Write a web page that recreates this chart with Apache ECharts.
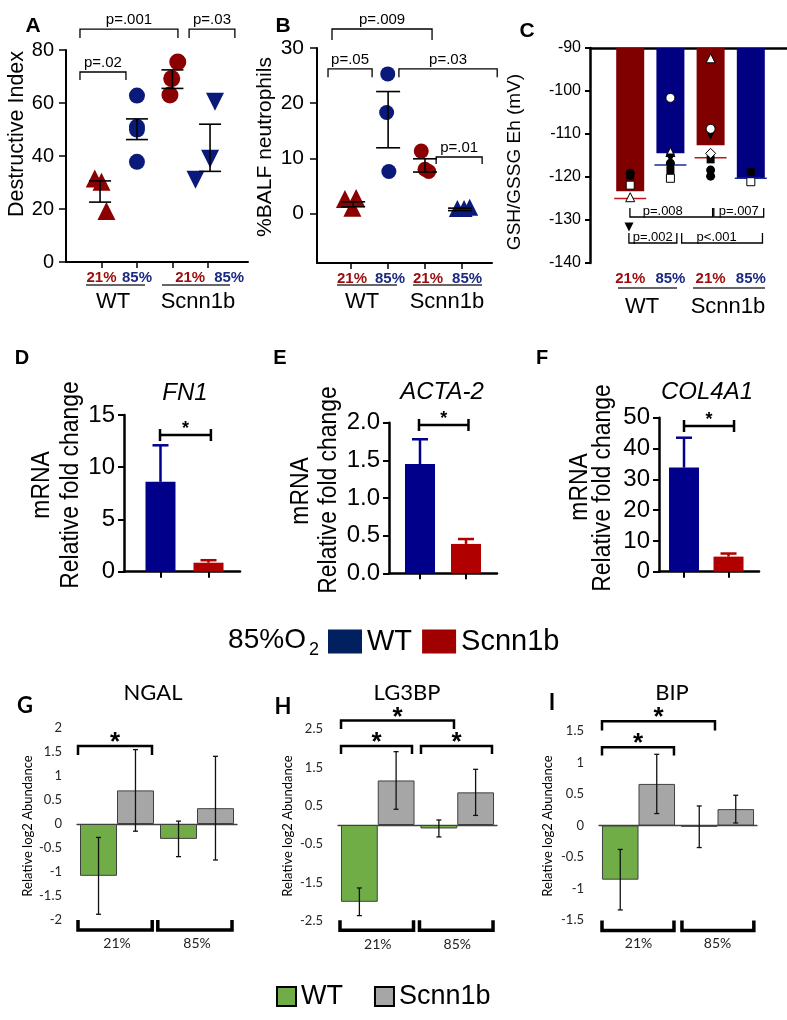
<!DOCTYPE html>
<html><head><meta charset="utf-8">
<script src="https://cdn.jsdelivr.net/npm/echarts@6/dist/echarts.min.js"></script>
<style>html,body{margin:0;padding:0;background:#fff}#c{width:787px;height:1020px}</style>
</head><body><div id="c"></div>
<script>
// ---------------- DATA ----------------
// Panel A: Destructive Index (points as [group position, value])
const groupLabels = ['21%', '85%', '21%', '85%'];
const aWT21 = [[0.81, 31.5], [1.0, 30.3], [1.14, 19.2]];
const aWT85 = [[2.0, 62.8], [2.0, 51.0], [2.0, 50.0], [2.0, 37.8]];
const aSc21 = [[3.15, 75.5], [2.98, 69.2], [2.93, 63.0]];
const aSc85 = [[4.2, 60.5], [4.06, 39.0], [3.65, 31.0]];
const aSem = [[0.96, 22.6, 30.6], [2.0, 46.2, 54.0], [3.0, 65.5, 72.5], [4.06, 34.2, 52.0]];
// Panel B: %BALF neutrophils
const bWT21 = [[0.85, 2.6], [1.15, 2.8], [1.05, 1.0]];
const bWT85 = [[2.0, 25.3], [1.97, 18.3], [2.03, 7.6]];
const bSc21 = [[2.9, 11.3], [3.1, 7.6], [3.0, 8.0]];
const bSc85 = [[3.87, 0.9], [4.05, 0.9], [4.2, 1.1]];
const bSem = [[1.07, 1.2, 2.1], [2.01, 11.9, 22.1], [3.0, 7.5, 9.9], [3.94, 0.5, 0.95]];
// Panel C: GSH/GSSG Eh (mV)
const cBars = [-123.3, -114.5, -112.6, -120.3];
const cMedian = [-125.0, -117.2, -115.5, -120.3];
const cBlackCircle = [[1, -119.1], [2, -116.8], [3, -118.4], [3, -119.8]];
const cBlackSquare = [[1, -119.7], [2, -118.4], [3, -115.9], [4, -118.8]];
const cWhiteSquare = [[1, -121.9], [2, -120.3], [4, -121.1]];
const cWhiteTriangle = [[1, -124.7], [2, -114.2], [3, -92.4]];
const cBlackTriDown = [[0.97, -131.6], [2, -115.6], [3, -110.3]];
const cWhiteCircle = [[2, -101.6], [3, -108.8]];
const cWhiteDiamond = [[3, -114.5]];
// Panels D-F: mRNA relative fold change (85% O2), [WT, Scnn1b]
const fn1Mean = [8.6, 0.86], fn1Err = [3.5, 0.24];
const acta2Mean = [1.45, 0.39], acta2Err = [0.33, 0.065];
const col4a1Mean = [33.8, 4.9], col4a1Err = [9.7, 1.0];
// Panels G-I: relative log2 abundance, categories 21% / 85%
const ghiCats = ['21%', '85%'];
const ngalWT = [-1.08, -0.31], ngalWTErr = [0.8, 0.37], ngalSc = [0.7, 0.33], ngalScErr = [0.85, 1.08];
const lg3bpWT = [-2.0, -0.09], lg3bpWTErr = [0.36, 0.22], lg3bpSc = [1.16, 0.85], lg3bpScErr = [0.75, 0.6];
const bipWT = [-0.86, -0.02], bipWTErr = [0.48, 0.33], bipSc = [0.66, 0.26], bipScErr = [0.47, 0.22];

// ---------------- ANNOTATIONS (data units) ----------------
const aBrackets = [
  {x1: 0.394, x2: 3.155, y: 87.9, leg: 84.5, text: 'p=.001'},
  {x1: 3.47, x2: 4.76, y: 87.9, leg: 84.5, text: 'p=.03'},
  {x1: 0.394, x2: 1.69, y: 71.7, leg: 68.7, text: 'p=.02'}];
const bBrackets = [
  {x1: 0.503, x2: 3.19, y: 33.45, leg: 31.45, text: 'p=.009'},
  {x1: 0.396, x2: 1.58, y: 26.2, leg: 24.7, text: 'p=.05'},
  {x1: 2.30, x2: 4.94, y: 26.2, leg: 24.7, text: 'p=.03'},
  {x1: 3.30, x2: 4.535, y: 10.23, leg: 8.96, text: 'p=.01'}];
const cBrackets = [
  {x1: 0.993, x2: 3.05, y: -129.3, leg: -127.2, text: 'p=.008', tx: 1.81},
  {x1: 3.08, x2: 4.32, y: -129.3, leg: -127.2, text: 'p=.007', tx: 3.70},
  {x1: 0.968, x2: 2.16, y: -135.35, leg: -133.0, text: 'p=.002', tx: 1.56},
  {x1: 2.28, x2: 4.29, y: -135.35, leg: -133.0, text: 'p<.001', tx: 3.15}];
const dSig = {x1: 0.99, x2: 2.05, y: 13.08};
const eSig = {x1: 0.978, x2: 2.054, y: 1.97};
const fSig = {x1: 1.0, x2: 2.124, y: 47.3};
const gSig = [{x1: -0.4875, x2: 0.4375, y: 1.625, leg: 1.4375, text: '*'}];
const gBottom = [{x1: -0.4875, x2: 0.44, y: -2.21, leg: -2.0}, {x1: 0.51, x2: 1.4375, y: -2.21, leg: -2.0}];
const hSig = [{x1: -0.462, x2: 0.431, y: 2.06, leg: 1.85, text: '*'},
  {x1: 0.544, x2: 1.437, y: 2.06, leg: 1.85, text: '*'},
  {x1: -0.462, x2: 0.959, y: 2.72, leg: 2.5, text: '*'}];
const hBottom = [{x1: -0.475, x2: 0.45, y: -2.74, leg: -2.48}, {x1: 0.525, x2: 1.45, y: -2.74, leg: -2.48}];
const iSig = [{x1: -0.462, x2: 0.449, y: 1.243, leg: 1.11, text: '*'},
  {x1: -0.462, x2: 0.968, y: 1.656, leg: 1.508, text: '*'}];
const iBottom = [{x1: -0.462, x2: 0.449, y: -1.667, leg: -1.508}, {x1: 0.55, x2: 1.46, y: -1.667, leg: -1.508}];
const aLabelPos = [1, 2, 3.5, 4.6];
const bLabelPos = [1.04, 2.06, 3.08, 4.13];
const cLabelPos = [1, 2, 3, 4];

// ---------------- STYLE ----------------
const FONT = '"Liberation Sans", Arial, sans-serif';
const NARROW = '"Liberation Sans Narrow", "Arial Narrow", "Liberation Sans", Arial, sans-serif';
const CAL = 'Lato, "Open Sans", sans-serif';
const RED = '#8b0000', BLUE = '#0a1a7a';
const LRED = '#9b0d0d', LBLUE = '#1b2a80';
const CRED = '#800000', CBLUE = '#000080';
const DFBLUE = '#00008b', DFRED = '#b00000';
const GREEN = '#70ad47', GRAY = '#a6a6a6';
const BAR_OFF = 0.231;

const chart = echarts.init(document.getElementById('c'), null, {renderer: 'canvas', width: 787, height: 1020});

const grids = [
  {left: 66, top: 50, width: 182, height: 212},
  {left: 317, top: 48, width: 175, height: 215},
  {left: 590, top: 48, width: 197, height: 215},
  {left: 124, top: 415, width: 116, height: 156.7},
  {left: 389, top: 422.7, width: 108, height: 150.6},
  {left: 659, top: 417.7, width: 100, height: 154},
  {left: 77, top: 728, width: 160, height: 192},
  {left: 338, top: 729, width: 159, height: 192},
  {left: 599, top: 731, width: 158, height: 189}
].map(g => Object.assign({outerBoundsMode: 'none', containLabel: false}, g));

function nearestIdx(arr, v) { let b = 0; arr.forEach((a, i) => { if (Math.abs(a - v) < Math.abs(arr[b] - v)) b = i; }); return b; }
const RICH = {
  r: {color: LRED, fontWeight: 'bold', fontSize: 15, fontFamily: FONT},
  b: {color: LBLUE, fontWeight: 'bold', fontSize: 15, fontFamily: FONT}
};
function groupFmt(pos) { return v => { const i = nearestIdx(pos, v); return '{' + (i % 2 ? 'b' : 'r') + '|' + groupLabels[i] + '}'; }; }

function valX(grid, min, max, extra) {
  return Object.assign({type: 'value', gridIndex: grid, min, max, splitLine: {show: false},
    axisLine: {show: true, onZero: false, lineStyle: {color: '#000', width: 2}},
    axisTick: {show: false}, axisLabel: {show: false}}, extra || {});
}
const tickCV = (vals, len, w) => ({show: true, customValues: vals, length: len, lineStyle: {color: '#000', width: w}});

const xAxis = [
  valX(0, 0, 5.13, {axisTick: tickCV([1, 2, 3, 4], 6, 1.5), axisLabel: {show: true, customValues: aLabelPos, margin: 8, formatter: groupFmt(aLabelPos), rich: RICH}}),
  valX(1, 0.1, 4.8, {axisTick: tickCV([1, 2, 3, 4], 6, 1.5), axisLabel: {show: true, customValues: bLabelPos, margin: 8, formatter: groupFmt(bLabelPos), rich: RICH}}),
  valX(2, 0, 4.9, {position: 'top', axisLine: {show: true, onZero: false, lineStyle: {color: '#000', width: 2.5}}}),
  valX(2, 0, 4.9, {position: 'bottom', axisLine: {show: false, onZero: false}, axisLabel: {show: true, customValues: cLabelPos, margin: 8, formatter: groupFmt(cLabelPos), rich: RICH}}),
  valX(3, 0.24, 2.656, {axisLine: {show: true, onZero: false, lineStyle: {color: '#000', width: 2.5}}, axisTick: tickCV([1, 2], 6, 2)}),
  valX(4, 0.326, 2.674, {axisLine: {show: true, onZero: false, lineStyle: {color: '#000', width: 2.5}}, axisTick: tickCV([1, 2], 6, 2)}),
  valX(5, 0.438, 2.685, {axisLine: {show: true, onZero: false, lineStyle: {color: '#000', width: 2.5}}, axisTick: tickCV([1, 2], 6, 2)})
];
// G, H, I: category axis (bars) + hidden value axis (zero line, error bars, brackets)
[6, 7, 8].forEach(g => {
  xAxis.push({type: 'category', gridIndex: g, data: ghiCats, position: 'bottom',
    axisLine: {show: false, onZero: false}, axisTick: {show: false},
    axisLabel: {margin: 16, fontSize: 14, fontFamily: CAL, color: '#222'}});
  xAxis.push(valX(g, -0.5, 1.5, {position: 'top', axisLine: {show: true, onZero: true, lineStyle: {color: '#404040', width: 1.3}}}));
});

function valY(grid, min, max, interval, extra) {
  return Object.assign({type: 'value', gridIndex: grid, min, max, interval, splitLine: {show: false},
    axisLine: {show: true, onZero: false, lineStyle: {color: '#000', width: 2}},
    axisTick: {show: true, length: 7, lineStyle: {color: '#000', width: 1.5}},
    axisLabel: {fontSize: 20, margin: 12, color: '#000', fontFamily: FONT}}, extra || {});
}
const dfLab = {fontSize: 24, margin: 9, color: '#000', fontFamily: NARROW};
const dfLine = {show: true, onZero: false, lineStyle: {color: '#000', width: 2.5}};
const dfTick = {show: true, length: 6, lineStyle: {color: '#000', width: 2}};
const ghiY = (grid, min, max, extraLabel) => ({type: 'value', gridIndex: grid, min, max, interval: 0.5, splitLine: {show: false},
  axisLine: {show: false, onZero: false}, axisTick: {show: false},
  axisLabel: Object.assign({fontSize: 13, margin: 15, color: '#262626', fontFamily: CAL}, extraLabel || {})});
const yAxis = [
  valY(0, 0, 80, 20),
  valY(1, -9, 30, 10, {axisTick: {show: true, customValues: [0, 10, 20, 30], length: 7, lineStyle: {color: '#000', width: 1.5}},
    axisLabel: {customValues: [0, 10, 20, 30], fontSize: 21, margin: 13, color: '#000', fontFamily: FONT}}),
  valY(2, -140, -90, 10, {axisLine: {show: true, onZero: false, lineStyle: {color: '#000', width: 2.5}},
    axisTick: {show: true, length: 5, lineStyle: {color: '#000', width: 2}},
    axisLabel: {fontSize: 16, margin: 9, color: '#000', fontFamily: FONT}}),
  valY(3, 0, 15, 5, {axisLine: dfLine, axisTick: dfTick, axisLabel: dfLab}),
  valY(4, 0, 2, 0.5, {axisLine: dfLine, axisTick: dfTick, axisLabel: Object.assign({formatter: v => v.toFixed(1)}, dfLab)}),
  valY(5, 0, 50, 10, {axisLine: dfLine, axisTick: dfTick, axisLabel: dfLab}),
  ghiY(6, -2, 2),
  ghiY(7, -2.5, 2.5, {customValues: [-2.5, -1.5, -0.5, 0.5, 1.5, 2.5]}),
  ghiY(8, -1.5, 1.5)
];

// ---------------- SERIES HELPERS ----------------
function scatter(xi, yi, data, symbol, size, color, rot, white) {
  return {type: 'scatter', xAxisIndex: xi, yAxisIndex: yi, data, symbol, symbolSize: size, symbolRotate: rot || 0,
    itemStyle: white ? {color: '#fff', borderColor: '#000', borderWidth: 1, opacity: 1} : {color, opacity: 1}, silent: true, z: 3};
}
function errSeries(xi, yi, data, o) {
  return {type: 'custom', xAxisIndex: xi, yAxisIndex: yi, data, silent: true, z: 4,
    renderItem: (params, api) => {
      const x = api.value(0), lo = api.value(1), hi = api.value(2);
      const p1 = api.coord([x, lo]), p2 = api.coord([x, hi]);
      const col = Array.isArray(o.color) ? o.color[params.dataIndex] : o.color;
      const st = {stroke: col, lineWidth: o.lw};
      const h = o.cap / 2;
      const ch = [{type: 'line', shape: {x1: p1[0], y1: p1[1], x2: p2[0], y2: p2[1]}, style: st},
        {type: 'line', shape: {x1: p2[0] - h, y1: p2[1], x2: p2[0] + h, y2: p2[1]}, style: st}];
      if (!o.topOnly) ch.push({type: 'line', shape: {x1: p1[0] - h, y1: p1[1], x2: p1[0] + h, y2: p1[1]}, style: st});
      return {type: 'group', children: ch};
    }};
}
function bracketSeries(xi, yi, list, st) {
  return {type: 'custom', xAxisIndex: xi, yAxisIndex: yi, silent: true, z: 5, clip: false,
    data: list.map(b => [b.x1, b.y]),
    renderItem: (params, api) => {
      const b = list[params.dataIndex];
      const a = api.coord([b.x1, b.y]), c = api.coord([b.x2, b.y]), l = api.coord([b.x1, b.leg]);
      const ch = [{type: 'polyline', shape: {points: [[a[0], l[1]], a, c, [c[0], l[1]]]},
        style: {stroke: '#000', lineWidth: st.lw, fill: 'none', lineJoin: 'miter'}}];
      if (b.text) {
        const tx = b.tx !== undefined ? api.coord([b.tx, b.y])[0] : (a[0] + c[0]) / 2;
        ch.push({type: 'text', x: tx, y: a[1] + st.dy, style: {text: b.text, fontSize: st.fs, fontFamily: st.ff,
          fontWeight: st.fw || 'normal', fill: '#000', align: 'center', verticalAlign: 'bottom'}});
      }
      return {type: 'group', children: ch};
    }};
}
function ibeamSeries(xi, yi, s) {
  return {type: 'custom', xAxisIndex: xi, yAxisIndex: yi, silent: true, z: 5, clip: false,
    data: [[s.x1, s.y]],
    renderItem: (params, api) => {
      const a = api.coord([s.x1, s.y]), c = api.coord([s.x2, s.y]);
      const st = {stroke: '#000', lineWidth: 2.5};
      return {type: 'group', children: [
        {type: 'line', shape: {x1: a[0], y1: a[1], x2: c[0], y2: c[1]}, style: st},
        {type: 'line', shape: {x1: a[0], y1: a[1] - 6, x2: a[0], y2: a[1] + 6}, style: st},
        {type: 'line', shape: {x1: c[0], y1: c[1] - 6, x2: c[0], y2: c[1] + 6}, style: st},
        {type: 'text', x: (a[0] + c[0]) / 2, y: a[1] + 3, style: {text: '*', fontSize: 18, fontWeight: 'bold', fontFamily: FONT,
          fill: '#000', align: 'center', verticalAlign: 'bottom'}}]};
    }};
}
const pStyleAB = {lw: 1.3, dy: -2, fs: 15, ff: FONT};
const pStyleC = {lw: 1.3, dy: 1, fs: 13, ff: FONT};
const starStyle = {lw: 2.5, dy: 10, fs: 26, ff: FONT, fw: 'bold'};
const bottomStyle = {lw: 3.5, dy: 0, fs: 12, ff: CAL};

const series = [];
// A
series.push(scatter(0, 0, aWT21, 'triangle', 18, RED));
series.push(scatter(0, 0, aWT85, 'circle', 16, BLUE));
series.push(scatter(0, 0, aSc21, 'circle', 17, RED));
series.push(scatter(0, 0, aSc85, 'triangle', 18, BLUE, 180));
series.push(errSeries(0, 0, aSem, {cap: 22, lw: 1.6, color: '#000'}));
series.push(bracketSeries(0, 0, aBrackets, pStyleAB));
// B
series.push(scatter(1, 1, bWT21, 'triangle', 18, RED));
series.push(scatter(1, 1, bWT85, 'circle', 15, BLUE));
series.push(scatter(1, 1, bSc21, 'circle', 15, RED));
series.push(scatter(1, 1, bSc85, 'triangle', 17, BLUE));
series.push(errSeries(1, 1, bSem, {cap: 24, lw: 1.6, color: '#000'}));
series.push(bracketSeries(1, 1, bBrackets, pStyleAB));
// C
series.push({type: 'bar', xAxisIndex: 2, yAxisIndex: 2, barWidth: 28, silent: true, z: 2,
  data: cBars.map((v, i) => ({value: [i + 1, v], itemStyle: {color: i % 2 ? CBLUE : CRED}}))});
series.push({type: 'custom', xAxisIndex: 2, yAxisIndex: 2, silent: true, z: 3,
  data: cMedian.map((v, i) => [i + 1, v]),
  renderItem: (p, api) => { const c = api.coord([api.value(0), api.value(1)]);
    return {type: 'line', shape: {x1: c[0] - 16, y1: c[1], x2: c[0] + 16, y2: c[1]},
      style: {stroke: p.dataIndex % 2 ? '#1a2a9a' : '#c01818', lineWidth: 1.5}}; }});
series.push(scatter(2, 2, cBlackCircle, 'circle', 9, '#000'));
series.push(scatter(2, 2, cBlackSquare, 'rect', 8, '#000'));
series.push(scatter(2, 2, cWhiteSquare, 'rect', 8, '#fff', 0, true));
series.push(scatter(2, 2, cWhiteTriangle, 'triangle', 9, '#fff', 0, true));
series.push(scatter(2, 2, cBlackTriDown, 'triangle', 9, '#000', 180));
series.push(scatter(2, 2, cWhiteCircle, 'circle', 9, '#fff', 0, true));
series.push(scatter(2, 2, cWhiteDiamond, 'diamond', 10, '#fff', 0, true));
series.push(bracketSeries(2, 2, cBrackets, pStyleC));
// D-F
[[4, 3, fn1Mean, fn1Err, dSig], [5, 4, acta2Mean, acta2Err, eSig], [6, 5, col4a1Mean, col4a1Err, fSig]].forEach(([xi, yi, m, e, s]) => {
  series.push({type: 'bar', name: 'WT|m', xAxisIndex: xi, yAxisIndex: yi, barWidth: 30, barGap: '-100%', silent: true,
    data: [[1, m[0]]], itemStyle: {color: DFBLUE}});
  series.push({type: 'bar', name: 'Scnn1b|m', xAxisIndex: xi, yAxisIndex: yi, barWidth: 30, barGap: '-100%', silent: true,
    data: [[2, m[1]]], itemStyle: {color: DFRED}});
  series.push(errSeries(xi, yi, [[1, m[0], m[0] + e[0]], [2, m[1], m[1] + e[1]]], {cap: 16, lw: 2.5, color: [DFBLUE, DFRED], topOnly: true}));
  series.push(ibeamSeries(xi, yi, s));
});
// G-I
[[7, 8, 6, ngalWT, ngalWTErr, ngalSc, ngalScErr, gSig, gBottom],
 [9, 10, 7, lg3bpWT, lg3bpWTErr, lg3bpSc, lg3bpScErr, hSig, hBottom],
 [11, 12, 8, bipWT, bipWTErr, bipSc, bipScErr, iSig, iBottom]].forEach(([xc, xv, yi, wt, wte, sc, sce, sig, bot]) => {
  const bs = {borderColor: '#404040', borderWidth: 1};
  series.push({type: 'bar', name: 'WT|p', xAxisIndex: xc, yAxisIndex: yi, data: wt, barGap: 0, barCategoryGap: '7.5%',
    silent: true, itemStyle: Object.assign({color: GREEN}, bs)});
  series.push({type: 'bar', name: 'Scnn1b|p', xAxisIndex: xc, yAxisIndex: yi, data: sc, barGap: 0, barCategoryGap: '7.5%',
    silent: true, itemStyle: Object.assign({color: GRAY}, bs)});
  const ed = [];
  wt.forEach((v, i) => ed.push([i - BAR_OFF, v - wte[i], v + wte[i]]));
  sc.forEach((v, i) => ed.push([i + BAR_OFF, v - sce[i], v + sce[i]]));
  series.push(errSeries(xv, yi, ed, {cap: 5, lw: 1.3, color: '#111'}));
  series.push(bracketSeries(xv, yi, sig, starStyle));
  series.push(bracketSeries(xv, yi, bot, bottomStyle));
});

// ---------------- GRAPHIC TEXT ----------------
function txt(x, y, text, o) {
  return {type: 'text', x, y, rotation: o.rot || 0, scaleX: o.sx || 1, scaleY: o.sy || 1, silent: true,
    style: {text, fontSize: o.fs, fontFamily: o.ff || FONT, fontWeight: o.fw || 'normal', fontStyle: o.it ? 'italic' : 'normal',
      fill: o.c || '#000', align: 'center', verticalAlign: 'middle'}};
}
function hline(x1, x2, y) { return {type: 'line', silent: true, shape: {x1, y1: y, x2, y2: y}, style: {stroke: '#333', lineWidth: 1.5}}; }
const R90 = Math.PI / 2;
const graphic = [
  txt(33, 26, 'A', {fs: 21, fw: 'bold'}), txt(283, 26, 'B', {fs: 21, fw: 'bold'}), txt(527, 31, 'C', {fs: 21, fw: 'bold'}),
  txt(17, 134, 'Destructive Index', {fs: 21.5, rot: R90}),
  txt(265, 147, '%BALF neutrophils', {fs: 21, rot: R90}),
  txt(515, 162, 'GSH/GSSG Eh (mV)', {fs: 19, rot: R90}),
  hline(86, 145, 285), hline(162, 230, 285), hline(337, 397, 285), hline(413, 482, 285), hline(618, 677, 288), hline(693, 765, 288),
  txt(113, 302, 'WT', {fs: 22}), txt(198, 302, 'Scnn1b', {fs: 22}),
  txt(362, 302, 'WT', {fs: 22}), txt(447, 302, 'Scnn1b', {fs: 22}),
  txt(642, 307, 'WT', {fs: 22}), txt(728, 307, 'Scnn1b', {fs: 22}),
  txt(22, 358, 'D', {fs: 20, fw: 'bold', ff: NARROW}), txt(280, 358, 'E', {fs: 20, fw: 'bold', ff: NARROW}), txt(542, 358, 'F', {fs: 20, fw: 'bold', ff: NARROW}),
  txt(185, 393, 'FN1', {fs: 24, it: true, ff: NARROW}), txt(442, 392, 'ACTA-2', {fs: 24, it: true, ff: NARROW}), txt(707, 392, 'COL4A1', {fs: 24, it: true, ff: NARROW}),
  txt(42, 485, 'mRNA', {fs: 26, rot: R90, sx: 0.88}), txt(71, 485, 'Relative fold change', {fs: 26, rot: R90, sx: 0.88}),
  txt(301, 491, 'mRNA', {fs: 26, rot: R90, sx: 0.88}), txt(329, 490, 'Relative fold change', {fs: 26, rot: R90, sx: 0.88}),
  txt(580, 487, 'mRNA', {fs: 26, rot: R90, sx: 0.88}), txt(603, 488, 'Relative fold change', {fs: 26, rot: R90, sx: 0.88}),
  txt(267, 640, '85%O', {fs: 28}), txt(314, 650, '2', {fs: 18}),
  txt(25, 706, 'G', {fs: 22, fw: 'bold', ff: CAL}), txt(283, 707, 'H', {fs: 22, fw: 'bold', ff: CAL}), txt(552, 703, 'I', {fs: 22, fw: 'bold', ff: CAL}),
  txt(153, 693, 'NGAL', {fs: 22, ff: CAL}), txt(407, 693, 'LG3BP', {fs: 22, ff: CAL}), txt(672, 693, 'BIP', {fs: 22, ff: CAL}),
  txt(28, 826, 'Relative log2 Abundance', {fs: 13, ff: CAL, rot: R90}),
  txt(288, 826, 'Relative log2 Abundance', {fs: 13, ff: CAL, rot: R90}),
  txt(548, 826, 'Relative log2 Abundance', {fs: 13, ff: CAL, rot: R90})
];

const legend = [
  {data: [{name: 'WT|m', itemStyle: {color: '#002060'}}, {name: 'Scnn1b|m', itemStyle: {color: '#a00000'}}],
    left: 328, top: 627, padding: 0, itemWidth: 34, itemHeight: 24, itemGap: 10, icon: 'rect', selectedMode: false,
    formatter: n => n.split('|')[0], textStyle: {fontSize: 29, fontFamily: FONT, color: '#000'}},
  {data: [{name: 'WT|p', itemStyle: {color: GREEN, borderColor: '#000', borderWidth: 2}},
          {name: 'Scnn1b|p', itemStyle: {color: GRAY, borderColor: '#000', borderWidth: 2}}],
    left: 276, top: 983, padding: 0, itemWidth: 19, itemHeight: 19, itemGap: 31, icon: 'rect', selectedMode: false,
    formatter: n => n.split('|')[0], textStyle: {fontSize: 27, fontFamily: FONT, color: '#000'}}
];

chart.setOption({animation: false, backgroundColor: '#fff', grid: grids, xAxis, yAxis, series, legend, graphic});
</script></body></html>
